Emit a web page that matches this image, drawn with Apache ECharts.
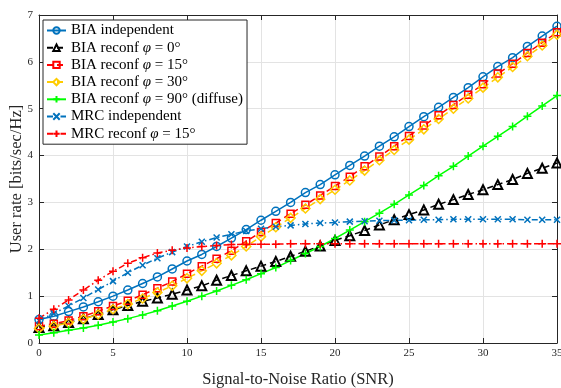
<!DOCTYPE html>
<html>
<head>
<meta charset="utf-8">
<script src="https://cdn.jsdelivr.net/npm/echarts@6/dist/echarts.min.js"></script>
<style>
  html, body { margin: 0; padding: 0; background: #fff; }
  #chart { width: 561px; height: 388px; }
</style>
</head>
<body>
<div id="chart"></div>
<script>
const snr = [0, 1, 2, 3, 4, 5, 6, 7, 8, 9, 10, 11, 12, 13, 14, 15, 16, 17, 18, 19, 20, 21, 22, 23, 24, 25, 26, 27, 28, 29, 30, 31, 32, 33, 34, 35];

const biaIndependent = [0.50, 0.57, 0.67, 0.77, 0.88, 1.00, 1.13, 1.27, 1.41, 1.58, 1.75, 1.89, 2.06, 2.24, 2.42, 2.62, 2.81, 3.00, 3.21, 3.38, 3.59, 3.79, 3.99, 4.20, 4.40, 4.62, 4.83, 5.03, 5.24, 5.45, 5.68, 5.90, 6.09, 6.33, 6.55, 6.76];
const biaReconf0 = [0.33, 0.37, 0.44, 0.52, 0.61, 0.71, 0.80, 0.89, 0.96, 1.04, 1.13, 1.22, 1.34, 1.44, 1.54, 1.64, 1.74, 1.85, 1.96, 2.07, 2.19, 2.29, 2.40, 2.52, 2.63, 2.74, 2.84, 2.96, 3.06, 3.17, 3.27, 3.38, 3.49, 3.62, 3.73, 3.84];
const biaReconf15 = [0.36, 0.41, 0.48, 0.57, 0.68, 0.79, 0.90, 1.03, 1.17, 1.31, 1.48, 1.64, 1.80, 1.97, 2.17, 2.37, 2.56, 2.76, 2.95, 3.15, 3.35, 3.55, 3.77, 3.98, 4.20, 4.42, 4.64, 4.86, 5.08, 5.30, 5.52, 5.75, 5.96, 6.19, 6.41, 6.63];
const biaReconf30 = [0.31, 0.36, 0.43, 0.51, 0.61, 0.72, 0.83, 0.95, 1.08, 1.22, 1.38, 1.54, 1.70, 1.87, 2.06, 2.27, 2.47, 2.67, 2.87, 3.07, 3.27, 3.47, 3.68, 3.90, 4.12, 4.34, 4.56, 4.78, 5.00, 5.22, 5.45, 5.67, 5.89, 6.12, 6.35, 6.58];
const biaReconf90 = [0.17, 0.22, 0.27, 0.32, 0.38, 0.45, 0.52, 0.60, 0.69, 0.79, 0.89, 1.00, 1.11, 1.23, 1.35, 1.48, 1.61, 1.76, 1.91, 2.06, 2.23, 2.41, 2.59, 2.77, 2.96, 3.16, 3.36, 3.57, 3.77, 3.99, 4.20, 4.41, 4.62, 4.84, 5.06, 5.28];
const mrcIndependent = [0.48, 0.63, 0.79, 0.96, 1.14, 1.32, 1.50, 1.66, 1.81, 1.94, 2.06, 2.16, 2.25, 2.32, 2.39, 2.44, 2.48, 2.51, 2.54, 2.56, 2.57, 2.59, 2.60, 2.61, 2.62, 2.62, 2.63, 2.63, 2.64, 2.64, 2.64, 2.64, 2.64, 2.63, 2.63, 2.63];
const mrcReconf15 = [0.53, 0.72, 0.92, 1.13, 1.34, 1.53, 1.70, 1.82, 1.92, 1.98, 2.03, 2.06, 2.08, 2.10, 2.11, 2.11, 2.11, 2.12, 2.12, 2.12, 2.12, 2.12, 2.12, 2.12, 2.12, 2.12, 2.12, 2.12, 2.12, 2.12, 2.12, 2.12, 2.12, 2.12, 2.12, 2.12];

const xTicks = [0, 5, 10, 15, 20, 25, 30, 35];
const yTicks = [0, 1, 2, 3, 4, 5, 6, 7];

const serif = "'Liberation Serif', 'DejaVu Serif', serif";
const axisColor = "#262626";

const PLUS = "path://M5,0L5,10M0,5L10,5";
const CROSS = "path://M0,0L10,10M10,0L0,10";

function line(name, values, color, symbol, size, dash, bw) {
	return {
		name,
		type: "line",
		data: snr.map((x, i) => [x, values[i]]),
		symbol,
		symbolSize: size,
		showSymbol: true,
		lineStyle: { color, width: 1.5, type: dash },
		itemStyle: { color: "none", borderColor: color, borderWidth: bw || 1.5 },
		emphasis: { disabled: true },
	};
}

const chart = echarts.init(document.getElementById("chart"));

const tickAxis = (pos, extra) => Object.assign({
	type: "value",
	position: pos,
	axisLine: { show: true, onZero: false, lineStyle: { color: axisColor, width: 1 } },
	axisTick: { show: true, inside: true, length: 5, lineStyle: { color: axisColor } },
	axisLabel: { show: false },
	splitLine: { show: false },
}, extra);

chart.setOption({
	animation: false,
	backgroundColor: "#fff",
	grid: { left: 39, right: 4, top: 15, bottom: 45, containLabel: false, outerBoundsMode: "none" },
	legend: {
		orient: "vertical",
		left: 43,
		top: 20,
		itemWidth: 19,
		itemHeight: 8,
		itemGap: 2.2,
		padding: [3, 4, 3, 3],
		backgroundColor: "#fff",
		borderColor: axisColor,
		borderWidth: 1,
		textStyle: {
			fontFamily: serif,
			fontSize: 15,
			lineHeight: 15,
			color: "#000",
			rich: { i: { fontFamily: serif, fontSize: 15, lineHeight: 15, fontStyle: "italic", color: "#000" } },
		},
		formatter: (name) => name.replace("φ", "{i|φ}"),
	},
	xAxis: [
		tickAxis("bottom", {
			min: 0, max: 35, interval: 5,
			axisLabel: { show: true, margin: 5, fontFamily: serif, fontSize: 11, color: axisColor,
				formatter: (v) => (xTicks.includes(v) ? String(v) : "") },
			splitLine: { show: true, lineStyle: { color: "#e3e3e3", width: 1 } },
			name: "Signal-to-Noise Ratio (SNR)",
			nameLocation: "middle",
			nameGap: 28,
			nameMoveOverlap: false,
			nameTextStyle: { fontFamily: serif, fontSize: 16.5, color: axisColor },
		}),
		tickAxis("top", { min: 0, max: 35, interval: 5 }),
	],
	yAxis: [
		tickAxis("left", {
			min: 0, max: 7, interval: 1,
			axisLabel: { show: true, margin: 6, fontFamily: serif, fontSize: 11, color: axisColor,
				formatter: (v) => (yTicks.includes(v) ? String(v) : "") },
			splitLine: { show: true, lineStyle: { color: "#e3e3e3", width: 1 } },
			name: "User rate [bits/sec/Hz]",
			nameLocation: "middle",
			nameGap: 14,
			nameMoveOverlap: false,
			nameTextStyle: { fontFamily: serif, fontSize: 16.5, color: axisColor },
		}),
		tickAxis("right", { min: 0, max: 7, interval: 1 }),
	],
	series: [
		line("BIA independent", biaIndependent, "#0072BD", "circle", 8, "solid"),
		line("BIA reconf φ = 0°", biaReconf0, "#000000", "triangle", 9, [6, 4], 2),
		line("BIA reconf φ = 15°", biaReconf15, "#FF0000", "rect", 7, [6, 4]),
		line("BIA reconf φ = 30°", biaReconf30, "#FFCC00", "diamond", 9, [6, 4]),
		line("BIA reconf φ = 90° (diffuse)", biaReconf90, "#00FF00", PLUS, 8, "solid"),
		line("MRC independent", mrcIndependent, "#0072BD", CROSS, 6, [6, 3, 1.5, 3]),
		line("MRC reconf φ = 15°", mrcReconf15, "#FF0000", PLUS, 8, [6, 3, 1.5, 3]),
	],
});
</script>
</body>
</html>
